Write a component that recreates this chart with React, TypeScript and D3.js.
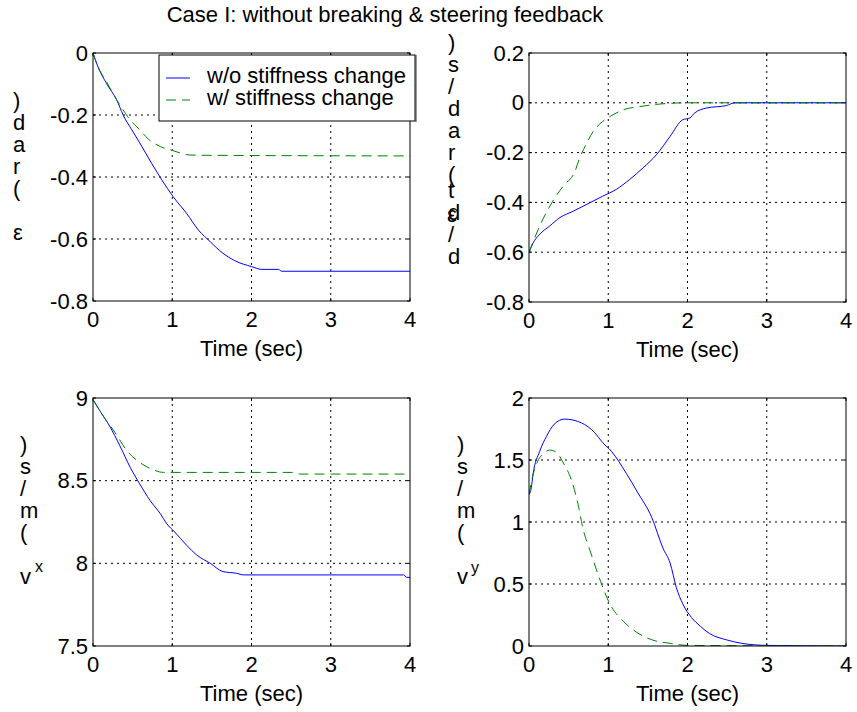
import React from "react";
import * as d3 from "d3";

const titleText = "Case I: without breaking & steering feedback";
const legendLabels = ["w/o stiffness change", "w/ stiffness change"];
const xLabel = "Time (sec)";
const xTicks = [0, 1, 2, 3, 4];
const yTicksEps = [-0.8, -0.6, -0.4, -0.2, 0];
const yTicksRate = [-0.8, -0.6, -0.4, -0.2, 0, 0.2];
const yTicksVx = [7.5, 8, 8.5, 9];
const yTicksVy = [0, 0.5, 1, 1.5, 2];

// [time, value]
const epsWo: [number, number][] = [
  [0, 0], [0.054, -0.039], [0.17, -0.098], [0.3, -0.152], [0.38, -0.2], [0.49, -0.248],
  [0.59, -0.29], [0.74, -0.356], [0.87, -0.41], [1.01, -0.463], [1.18, -0.517],
  [1.33, -0.571], [1.48, -0.609], [1.64, -0.646], [1.79, -0.67], [2.0, -0.689],
  [2.13, -0.698], [2.34, -0.698], [2.38, -0.704], [4, -0.704],
];
const epsW: [number, number][] = [
  [0, 0], [0.054, -0.039], [0.17, -0.093], [0.34, -0.168], [0.47, -0.216], [0.59, -0.248],
  [0.7, -0.278], [0.85, -0.302], [1.01, -0.315], [1.22, -0.329], [1.43, -0.33], [4, -0.332],
];
const rateWo: [number, number][] = [
  [0, -0.601], [0.05, -0.564], [0.135, -0.528], [0.26, -0.495], [0.39, -0.461],
  [0.56, -0.435], [0.77, -0.401], [0.93, -0.375], [1.1, -0.348], [1.27, -0.308],
  [1.44, -0.261], [1.61, -0.208], [1.78, -0.135], [1.94, -0.068], [2.03, -0.061],
  [2.09, -0.041], [2.24, -0.021], [2.49, -0.011], [2.6, 0], [4, 0],
];
const rateW: [number, number][] = [
  [0, -0.601], [0.05, -0.56], [0.135, -0.495], [0.3, -0.395], [0.43, -0.335],
  [0.58, -0.275], [0.64, -0.221], [0.72, -0.168], [0.81, -0.115], [0.93, -0.075],
  [1.06, -0.048], [1.19, -0.028], [1.4, -0.015], [1.65, -0.005], [2.0, 0], [4, 0],
];
const vxWo: [number, number][] = [
  [0, 8.99], [0.09, 8.92], [0.21, 8.83], [0.34, 8.71], [0.47, 8.58], [0.59, 8.48],
  [0.72, 8.38], [0.85, 8.3], [0.93, 8.24], [1.03, 8.19], [1.18, 8.11], [1.31, 8.05],
  [1.48, 8.0], [1.64, 7.95], [1.81, 7.94], [1.9, 7.93], [3.92, 7.93], [3.96, 7.915], [4, 7.915],
];
const vxW: [number, number][] = [
  [0, 8.99], [0.13, 8.89], [0.28, 8.79], [0.43, 8.68], [0.59, 8.61], [0.74, 8.57],
  [0.89, 8.55], [1.22, 8.55], [2.53, 8.55], [2.61, 8.54], [4, 8.54],
];
const vyWo: [number, number][] = [
  [0, 1.22], [0.03, 1.28], [0.05, 1.38], [0.135, 1.57], [0.22, 1.69], [0.32, 1.79],
  [0.45, 1.83], [0.66, 1.8], [0.83, 1.72], [0.93, 1.64], [1.04, 1.57], [1.23, 1.39],
  [1.36, 1.25], [1.55, 1.035], [1.69, 0.79], [1.78, 0.67], [1.86, 0.47], [1.94, 0.34],
  [2.05, 0.23], [2.16, 0.16], [2.28, 0.1], [2.49, 0.05], [2.7, 0.02], [3.0, 0.005], [4, 0],
];
const vyW: [number, number][] = [
  [0, 1.22], [0.05, 1.38], [0.11, 1.49], [0.18, 1.55], [0.26, 1.58], [0.35, 1.56],
  [0.43, 1.48], [0.54, 1.33], [0.62, 1.14], [0.68, 0.95], [0.77, 0.77], [0.87, 0.58],
  [1.02, 0.34], [1.19, 0.2], [1.36, 0.11], [1.55, 0.05], [1.8, 0.02], [2.0, 0.005], [4, 0],
];

const labelEps = [")", "d", "a", "r", "(", " ", "ε"];
const labelRateA = [")", "s", "/", "d", "a", "r", "("];
const labelRateB = ["t", "d", "/", "d"];
const labelV = [")", "s", "/", "m", "(", " ", "v"];

const FONT = "'Liberation Sans', Arial, Helvetica, sans-serif";
const FS = 22;
const BLUE = "#0000ff";
const GREEN = "#008000";

type Panel = {
  x0: number; y0: number; w: number; h: number;
  yDomain: [number, number]; yTicks: number[];
  wo: [number, number][]; wi: [number, number][];
};

const panels: Panel[] = [
  { x0: 93, y0: 53, w: 317, h: 248, yDomain: [-0.8, 0], yTicks: yTicksEps, wo: epsWo, wi: epsW },
  { x0: 529, y0: 53, w: 317, h: 249, yDomain: [-0.8, 0.2], yTicks: yTicksRate, wo: rateWo, wi: rateW },
  { x0: 93, y0: 398, w: 317, h: 248, yDomain: [7.5, 9], yTicks: yTicksVx, wo: vxWo, wi: vxW },
  { x0: 529, y0: 398, w: 317, h: 248, yDomain: [0, 2], yTicks: yTicksVy, wo: vyWo, wi: vyW },
];

const fmt = (v: number) => String(+v.toFixed(2));

function PanelView({ p, idx }: { p: Panel; idx: number }) {
  const x = d3.scaleLinear().domain([0, 4]).range([p.x0, p.x0 + p.w]);
  const y = d3.scaleLinear().domain(p.yDomain).range([p.y0 + p.h, p.y0]);
  const line = d3.line<[number, number]>().x((d) => x(d[0])).y((d) => y(d[1])).curve(d3.curveMonotoneX);
  const bottom = p.y0 + p.h;
  const right = p.x0 + p.w;
  const clipId = `clip${idx}`;
  return (
    <g>
      <defs>
        <clipPath id={clipId}>
          <rect x={p.x0} y={p.y0} width={p.w} height={p.h} />
        </clipPath>
      </defs>
      {xTicks.filter((t) => t > 0 && t < 4).map((t) => (
        <line key={"gx" + t} x1={x(t)} x2={x(t)} y1={p.y0} y2={bottom} stroke="#000" strokeWidth={1} strokeDasharray="2,4" />
      ))}
      {p.yTicks.filter((t) => t > p.yDomain[0] && t < p.yDomain[1]).map((t) => (
        <line key={"gy" + t} x1={p.x0} x2={right} y1={y(t)} y2={y(t)} stroke="#000" strokeWidth={1} strokeDasharray="2,4" />
      ))}
      {xTicks.map((t) => (
        <g key={"tx" + t}>
          <line x1={x(t)} x2={x(t)} y1={bottom} y2={bottom - 3} stroke="#000" />
          <line x1={x(t)} x2={x(t)} y1={p.y0} y2={p.y0 + 3} stroke="#000" />
          <text x={x(t)} y={bottom + 26} textAnchor="middle" fontSize={FS} fontFamily={FONT}>{fmt(t)}</text>
        </g>
      ))}
      {p.yTicks.map((t) => (
        <g key={"ty" + t}>
          <line x1={p.x0} x2={p.x0 + 3} y1={y(t)} y2={y(t)} stroke="#000" />
          <line x1={right} x2={right - 3} y1={y(t)} y2={y(t)} stroke="#000" />
          <text x={p.x0 - 5} y={y(t) + 7.5} textAnchor="end" fontSize={FS} fontFamily={FONT}>{fmt(t)}</text>
        </g>
      ))}
      <g clipPath={`url(#${clipId})`}>
        <path d={line(p.wo) || ""} fill="none" stroke={BLUE} strokeWidth={1} />
        <path d={line(p.wi) || ""} fill="none" stroke={GREEN} strokeWidth={1} strokeDasharray="10,6" />
      </g>
      <rect x={p.x0} y={p.y0} width={p.w} height={p.h} fill="none" stroke="#000" strokeWidth={1} />
      <text x={p.x0 + p.w / 2} y={bottom + 55} textAnchor="middle" fontSize={FS} fontFamily={FONT}>{xLabel}</text>
    </g>
  );
}

function Stack({ chars, x, y0, step }: { chars: string[]; x: number; y0: number; step: number }) {
  return (
    <g>
      {chars.map((c, i) => (
        <text key={i} x={x} y={y0 + i * step} fontSize={FS} fontFamily={FONT}>{c}</text>
      ))}
    </g>
  );
}

export default function App() {
  return (
    <svg width={857} height={712} style={{ position: "absolute", left: 0, top: 0, background: "#fff" }}>
      <rect x={0} y={0} width={857} height={712} fill="#fff" />
      <text x={385} y={22} textAnchor="middle" fontSize={FS} fontFamily={FONT}>{titleText}</text>
      {panels.map((p, i) => <PanelView key={i} p={p} idx={i} />)}

      <rect x={159} y={55} width={256} height={66} fill="#fff" stroke="#000" strokeWidth={1} />
      <line x1={416} x2={416} y1={55} y2={122} stroke="#333" strokeWidth={1} />
      <line x1={166} x2={190} y1={78} y2={78} stroke={BLUE} strokeWidth={1} />
      <line x1={166} x2={190} y1={100} y2={100} stroke={GREEN} strokeWidth={1} strokeDasharray="10,6" />
      <text x={207} y={83} fontSize={FS} fontFamily={FONT}>{legendLabels[0]}</text>
      <text x={207} y={105} fontSize={FS} fontFamily={FONT}>{legendLabels[1]}</text>

      <Stack chars={labelEps} x={13} y0={108} step={22} />
      <Stack chars={labelRateA} x={448} y0={50} step={22} />
      <Stack chars={labelRateB} x={448} y0={198} step={22} />
      <text x={447} y={222} fontSize={FS} fontFamily={FONT}>ε</text>
      <Stack chars={labelV} x={20} y0={452} step={22} />
      <text x={35} y={572} fontSize={16} fontFamily={FONT}>x</text>
      <Stack chars={labelV} x={457} y0={452} step={22} />
      <text x={471} y={573} fontSize={16} fontFamily={FONT}>y</text>
    </svg>
  );
}
